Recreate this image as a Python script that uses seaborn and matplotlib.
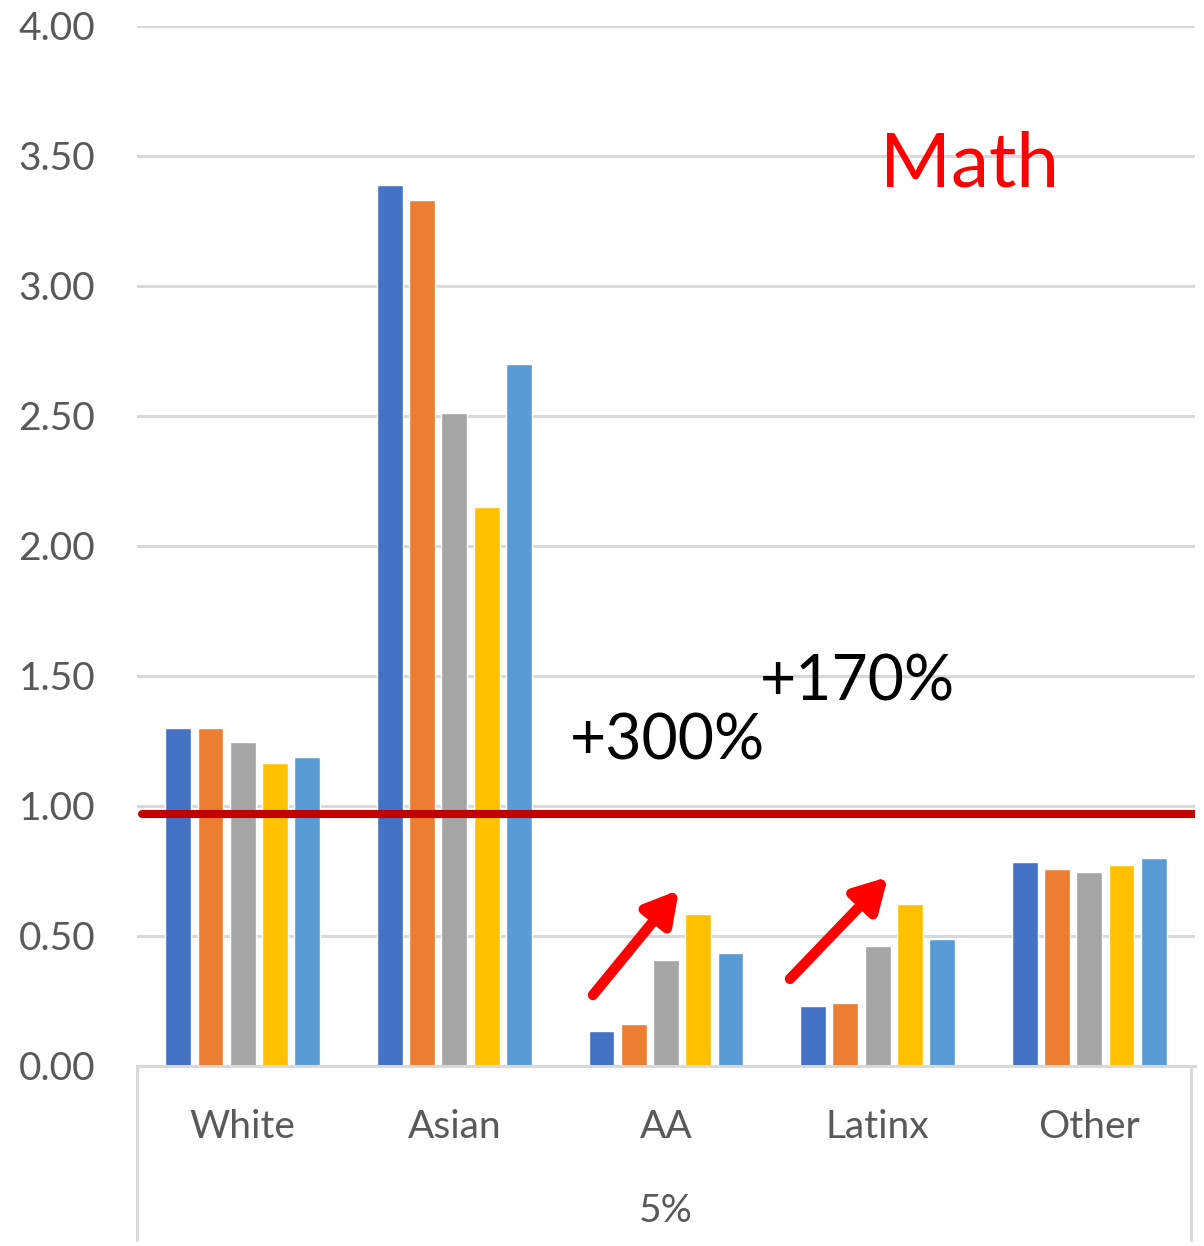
import pandas as pd
import matplotlib.pyplot as plt
import seaborn as sns

groups = ["White", "Asian", "AA", "Latinx", "Other"]
series = ["Series 1", "Series 2", "Series 3", "Series 4", "Series 5"]
s1 = [1.30, 3.39, 0.135, 0.231, 0.785]
s2 = [1.30, 3.33, 0.160, 0.242, 0.758]
s3 = [1.245, 2.51, 0.408, 0.462, 0.746]
s4 = [1.165, 2.15, 0.585, 0.623, 0.773]
s5 = [1.19, 2.70, 0.435, 0.488, 0.800]
yticks = [0, 0.5, 1.0, 1.5, 2.0, 2.5, 3.0, 3.5, 4.0]
ref_level = 0.97
group_label = "5%"

colors = ["#4472C4", "#ED7D31", "#A5A5A5", "#FFC000", "#5B9BD5"]

rows = []
for name, vals in zip(series, [s1, s2, s3, s4, s5]):
    for g, v in zip(groups, vals):
        rows.append({"group": g, "series": name, "value": v})
df = pd.DataFrame(rows)

sns.set_theme(style="white")
plt.rcParams["font.family"] = ["Lato", "DejaVu Sans"]

fig = plt.figure(figsize=(12.04, 12.46), dpi=100)
ax = fig.add_axes([137 / 1204, (1246 - 1066) / 1246, 1058 / 1204, 1040 / 1246])

sns.barplot(data=df, x="group", y="value", hue="series", palette=colors,
            width=0.763, gap=0.2, saturation=1, ax=ax, legend=False, zorder=2)

ax.set_xlim(-0.5, 4.5)
ax.set_ylim(0, 4)
ax.set_yticks(yticks)
ax.set_yticklabels([f"{t:.2f}" for t in yticks])
ax.set_xlabel("")
ax.set_ylabel("")
ax.yaxis.grid(True, color="#D9D9D9", lw=2.2, zorder=0)
ax.set_axisbelow(True)
for s in ["top", "right", "left"]:
    ax.spines[s].set_visible(False)
ax.spines["bottom"].set_color("#D9D9D9")
ax.spines["bottom"].set_linewidth(2.2)
ax.tick_params(axis="y", length=0, pad=30, labelsize=28, labelcolor="#595959")
ax.tick_params(axis="x", length=0, pad=31, labelsize=28, labelcolor="#595959")

# category box lines below the axis
for xf in [0.0, 1054 / 1058]:
    ax.plot([xf, xf], [0, -174 / 1040], transform=ax.transAxes,
            color="#D9D9D9", lw=2.2, clip_on=False)
ax.text(0.5, -145 / 1040, group_label, transform=ax.transAxes, ha="center",
        va="center", fontsize=28, color="#595959")

# reference line
ax.axhline(ref_level, xmin=0.005, xmax=1, color="#C00000", lw=5.8, zorder=3)

# annotations
arrow = dict(arrowstyle="-|>,head_length=1.6,head_width=0.9",
             color="#FF0000", lw=7.5, shrinkA=0, shrinkB=0)
ax.annotate("", xy=(2.061, 0.677), xytext=(1.655, 0.273), arrowprops=arrow, zorder=4)
ax.annotate("", xy=(3.049, 0.727), xytext=(2.586, 0.335), arrowprops=arrow, zorder=4)
ax.text(1.546, 1.177, "+300%", fontsize=45, color="black", va="baseline", zorder=5)
ax.text(2.444, 1.404, "+170%", fontsize=45, color="black", va="baseline", zorder=5)
ax.text(3.011, 3.381, "Math", fontsize=55, color="#FF0000", va="baseline", zorder=5)

fig.savefig("out.png", dpi=100)
